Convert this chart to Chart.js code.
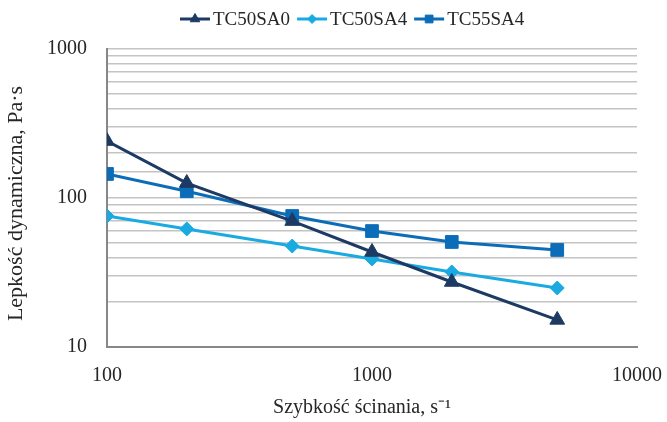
<!DOCTYPE html>
<html>
<head>
<meta charset="utf-8">
<script src="https://cdn.jsdelivr.net/npm/chart.js@4.4.0/dist/chart.umd.min.js"></script>
<style>
  html, body { margin: 0; padding: 0; background: #fff; }
  #wrap { width: 667px; height: 422px; }
</style>
</head>
<body>
<div id="wrap"><canvas id="viscChart" width="667" height="422"></canvas></div>
<script>
// shear rate, s^-1
const shearRates = [100, 200, 500, 1000, 2000, 5000];
// dynamic viscosity, Pa·s
const tc50sa0 = [241, 126, 70, 43.4, 27.3, 15.2];
const tc50sa4 = [75.7, 62, 47.6, 39, 31.9, 24.9];
const tc55sa4 = [145, 111, 75.7, 60, 50.7, 44.8];
const seriesNames = ["TC50SA0", "TC50SA4", "TC55SA4"];
const seriesColors = ["#1C3A63", "#1AAAE2", "#0B6DB8"];
const seriesMarkers = ["triangle", "rectRot", "rect"];
const markerSizes = [8.5, 7, 9];
const legendMarkerSizes = [5.5, 4.5, 5.5];

const FONT = "'Liberation Serif', 'Times New Roman', serif";
const TEXT = "#262626";

const toPoints = (vals) => vals.map((v, i) => ({ x: shearRates[i], y: v }));
const isPow10 = (v) => Math.abs(Math.log10(v) - Math.round(Math.log10(v))) < 1e-9;

// legend: short line with the marker on it, then the name
const lineLegend = {
  id: "lineLegend",
  afterDraw(chart) {
    const ctx = chart.ctx;
    ctx.save();
    ctx.font = "19px " + FONT;
    ctx.textBaseline = "middle";
    let x = 180;
    const y = 19;
    chart.data.datasets.forEach((ds, i) => {
      ctx.strokeStyle = ds.borderColor;
      ctx.fillStyle = ds.borderColor;
      ctx.lineWidth = 3;
      ctx.beginPath();
      ctx.moveTo(x, y);
      ctx.lineTo(x + 30, y);
      ctx.stroke();
      ctx.lineWidth = 1;
      Chart.helpers.drawPoint(ctx, {
        pointStyle: ds.pointStyle,
        radius: legendMarkerSizes[i],
        rotation: 0,
        borderWidth: 1,
      }, x + 15, y);
      ctx.fillStyle = TEXT;
      ctx.fillText(ds.label, x + 33, y + 1);
      x += 33 + ctx.measureText(ds.label).width + 7;
    });
    ctx.restore();
  },
};

const datasets = [tc50sa0, tc50sa4, tc55sa4].map((vals, i) => ({
  label: seriesNames[i],
  data: toPoints(vals),
  borderColor: seriesColors[i],
  backgroundColor: seriesColors[i],
  pointBackgroundColor: seriesColors[i],
  pointBorderColor: seriesColors[i],
  pointStyle: seriesMarkers[i],
  pointRadius: markerSizes[i],
  pointBorderWidth: 1,
  borderWidth: 3,
  tension: 0,
}));

new Chart(document.getElementById("viscChart"), {
  type: "line",
  data: { datasets },
  plugins: [lineLegend],
  options: {
    responsive: false,
    animation: false,
    layout: { padding: { top: 49, right: 30, left: 0, bottom: 0 } },
    plugins: {
      legend: { display: false },
      tooltip: { enabled: false },
    },
    scales: {
      x: {
        type: "logarithmic",
        min: 100,
        max: 10000,
        afterFit(scale) {
          scale.height = 75;
          scale.paddingLeft = 0;
          scale.paddingRight = 0;
        },
        grid: { display: false, drawTicks: false },
        border: { display: true, color: "#878787", width: 2 },
        ticks: {
          autoSkip: false,
          maxRotation: 0,
          padding: 17,
          color: TEXT,
          font: { family: FONT, size: 20 },
          callback: (v) => (isPow10(v) ? String(v) : ""),
        },
        title: {
          display: true,
          // trailing spaces nudge the centred title a little to the left
          text: "Szybkość ścinania, s⁻¹    ",
          color: TEXT,
          font: { family: FONT, size: 20 },
          padding: { top: 4, bottom: 2 },
        },
      },
      y: {
        type: "logarithmic",
        min: 10,
        max: 1000,
        afterFit(scale) { scale.width = 107; },
        grid: { color: "#C4C4C4", lineWidth: 1.5, drawTicks: false },
        border: { display: true, color: "#878787", width: 2 },
        ticks: {
          autoSkip: false,
          padding: 20,
          color: TEXT,
          font: { family: FONT, size: 20 },
          callback: (v) => (isPow10(v) ? String(v) : ""),
        },
        title: {
          display: true,
          // trailing spaces nudge the rotated title slightly downward
          text: "Lepkość dynamiczna, Pa·s  ",
          color: TEXT,
          font: { family: FONT, size: 22 },
          padding: { top: 3, bottom: 0 },
        },
      },
    },
  },
});
</script>
</body>
</html>
